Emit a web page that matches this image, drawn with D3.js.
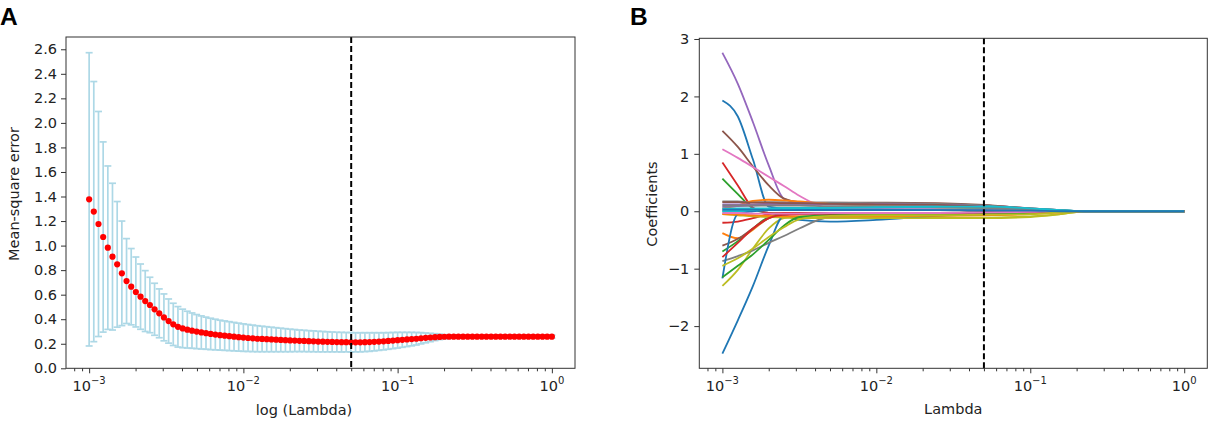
<!DOCTYPE html>
<html><head><meta charset="utf-8">
<script src="https://cdn.jsdelivr.net/npm/d3@7"></script>
<style>
html,body{margin:0;padding:0;background:#fff;}
svg{display:block;}
text{font-family:"DejaVu Sans",sans-serif;fill:#222;}
</style></head>
<body>
<svg id="chart" width="1215" height="427"></svg>
<script>
// ---------- Panel A data ----------
const lambdaA = [0.001000,0.001072,0.001150,0.001233,0.001322,0.001417,0.001520,0.001630,0.001748,0.001874,
0.002009,0.002154,0.002310,0.002477,0.002656,0.002848,0.003054,0.003275,0.003511,0.003765,
0.004037,0.004329,0.004642,0.004977,0.005337,0.005722,0.006136,0.006579,0.007055,0.007565,
0.008111,0.008697,0.009326,0.01000,0.01072,0.01150,0.01233,0.01322,0.01417,0.01520,
0.01630,0.01748,0.01874,0.02009,0.02154,0.02310,0.02477,0.02656,0.02848,0.03054,
0.03275,0.03511,0.03765,0.04037,0.04329,0.04642,0.04977,0.05337,0.05722,0.06136,
0.06579,0.07055,0.07565,0.08111,0.08697,0.09326,0.1000,0.1072,0.1150,0.1233,
0.1322,0.1417,0.1520,0.1630,0.1748,0.1874,0.2009,0.2154,0.2310,0.2477,
0.2656,0.2848,0.3054,0.3275,0.3511,0.3765,0.4037,0.4329,0.4642,0.4977,
0.5337,0.5722,0.6136,0.6579,0.7055,0.7565,0.8111,0.8697,0.9326,1.0];
const mseMean = [1.377,1.277,1.176,1.070,0.983,0.910,0.847,0.774,0.711,0.665,
0.622,0.584,0.548,0.516,0.481,0.448,0.415,0.385,0.358,0.338,
0.325,0.315,0.307,0.299,0.292,0.286,0.280,0.275,0.270,0.266,
0.262,0.258,0.254,0.250,0.247,0.244,0.241,0.239,0.237,0.235,
0.233,0.231,0.229,0.227,0.226,0.224,0.223,0.221,0.220,0.218,
0.217,0.216,0.215,0.214,0.213,0.213,0.212,0.212,0.212,0.213,
0.214,0.216,0.218,0.220,0.223,0.226,0.229,0.232,0.235,0.238,
0.241,0.245,0.248,0.251,0.254,0.256,0.257,0.258,0.258,0.258,
0.258,0.258,0.258,0.258,0.258,0.258,0.258,0.258,0.258,0.258,
0.258,0.258,0.258,0.258,0.258,0.258,0.258,0.258,0.258,0.258];
const mseStd = [1.195,1.060,0.917,0.775,0.666,0.598,0.512,0.426,0.346,0.311,
0.285,0.266,0.248,0.226,0.212,0.199,0.191,0.180,0.172,0.165,
0.157,0.150,0.144,0.139,0.135,0.131,0.128,0.125,0.122,0.120,
0.118,0.116,0.114,0.112,0.110,0.108,0.106,0.104,0.102,0.100,
0.098,0.096,0.094,0.092,0.090,0.088,0.087,0.086,0.085,0.084,
0.083,0.082,0.081,0.080,0.080,0.079,0.079,0.078,0.078,0.077,
0.076,0.074,0.072,0.070,0.068,0.066,0.064,0.061,0.058,0.055,
0.051,0.046,0.040,0.034,0.028,0.022,0.017,0.014,0.012,0.012,
0.012,0.012,0.012,0.012,0.012,0.012,0.012,0.012,0.012,0.012,
0.012,0.012,0.012,0.012,0.012,0.012,0.012,0.012,0.012,0.012];
const yTicksA = [0,0.2,0.4,0.6,0.8,1.0,1.2,1.4,1.6,1.8,2.0,2.2,2.4,2.6];

// ---------- Panel B data ----------
const lambdaB = [0.001,0.00126,0.00158,0.002,0.00251,0.00316,0.00501,0.01,0.0251,0.0501,0.1,0.158,0.224,1.0];
const coefPaths = [
 [1.93,1.65,0.90,0.08,0.05,0.05,0.04,0.03,0.03,0.02,0.01,0,0,0],
 [-0.38,-0.47,-0.32,-0.12,-0.06,-0.05,-0.06,-0.07,-0.06,-0.05,-0.03,-0.01,0,0],
 [0.57,0.30,0.05,-0.03,-0.04,-0.04,-0.04,-0.04,-0.04,-0.03,-0.02,-0.01,0,0],
 [0.85,0.45,0.06,-0.03,-0.05,-0.05,-0.05,-0.04,-0.03,-0.02,-0.01,0,0,0],
 [2.76,2.22,1.55,0.80,0.22,0.15,0.13,0.13,0.12,0.10,0.05,0.02,0,0],
 [1.40,1.12,0.78,0.45,0.22,0.16,0.15,0.15,0.14,0.11,0.05,0.02,0,0],
 [1.08,0.93,0.77,0.60,0.44,0.27,0.06,0.05,0.05,0.04,0.02,0.01,0,0],
 [0.17,0.17,0.16,0.16,0.16,0.15,0.15,0.14,0.13,0.10,0.05,0.02,0,0],
 [-1.30,-1.02,-0.65,-0.30,-0.12,-0.09,-0.10,-0.10,-0.11,-0.11,-0.09,-0.05,0,0],
 [0.00,0.00,0.01,0.02,0.03,0.04,0.06,0.08,0.10,0.09,0.04,0.02,0,0],
 [-2.48,-1.90,-1.30,-0.60,-0.08,-0.15,-0.18,-0.15,-0.08,-0.05,-0.03,-0.01,0,0],
 [0.05,0.10,0.18,0.20,0.19,0.17,0.13,0.10,0.07,0.05,0.02,0.01,0,0],
 [-0.70,-0.52,-0.30,-0.10,-0.05,-0.05,-0.05,-0.05,-0.05,-0.04,-0.03,-0.01,0,0],
 [-0.20,-0.18,-0.12,-0.05,-0.03,-0.03,-0.03,-0.03,-0.03,-0.02,-0.01,0,0,0],
 [0.12,0.12,0.12,0.13,0.14,0.14,0.13,0.12,0.11,0.08,0.04,0.01,0,0],
 [-0.60,-0.48,-0.30,-0.12,-0.05,-0.04,-0.04,-0.04,-0.04,-0.03,-0.02,-0.01,0,0],
 [0.02,0.02,0.02,0.03,0.03,0.03,0.03,0.03,0.02,0.02,0.01,0,0,0],
 [-0.87,-0.78,-0.68,-0.55,-0.43,-0.30,-0.10,-0.08,-0.07,-0.05,-0.03,-0.01,0,0],
 [-0.05,-0.07,-0.09,-0.10,-0.11,-0.12,-0.12,-0.12,-0.12,-0.12,-0.10,-0.05,0,0],
 [0.05,0.05,0.05,0.05,0.06,0.06,0.07,0.07,0.07,0.06,0.04,0.02,0,0],
 [-1.17,-0.05,0.00,0.02,0.03,0.03,0.03,0.03,0.02,0.02,0.01,0,0,0],
 [-0.05,-0.06,-0.07,-0.08,-0.09,-0.09,-0.09,-0.09,-0.08,-0.07,-0.05,-0.02,0,0],
 [-1.15,-0.95,-0.75,-0.50,-0.25,-0.10,-0.07,-0.06,-0.06,-0.05,-0.03,-0.01,0,0],
 [-0.80,-0.55,-0.30,-0.12,-0.06,-0.05,-0.04,-0.03,-0.03,-0.02,-0.01,0,0,0],
 [0.08,0.09,0.10,0.11,0.12,0.12,0.12,0.12,0.11,0.08,0.03,0.01,0,0],
 [0.16,0.16,0.15,0.15,0.14,0.14,0.13,0.12,0.11,0.08,0.04,0.01,0,0],
 [-0.03,-0.03,-0.04,-0.04,-0.04,-0.04,-0.03,-0.03,-0.03,-0.02,-0.01,0,0,0],
 [0.10,0.10,0.10,0.10,0.10,0.10,0.09,0.09,0.08,0.06,0.03,0.01,0,0],
 [-0.95,-0.82,-0.65,-0.45,-0.28,-0.14,-0.08,-0.07,-0.07,-0.06,-0.05,-0.02,0,0],
 [0.00,0.01,0.02,0.03,0.04,0.05,0.06,0.07,0.08,0.08,0.05,0.02,0,0],
 [0.03,0.03,0.03,0.02,0.02,0.02,0.02,0.02,0.02,0.01,0.01,0,0,0]
];
const yTicksB = [-2,-1,0,1,2,3];

// ---------- shared ----------
const xTickValues = [0.001,0.01,0.1,1];
const xTickExps = ["\u22123","\u22122","\u22121","0"];
const bestLambda = 0.05;
const xDomain = [Math.pow(10,-3.15), Math.pow(10,0.15)];

const svg = d3.select("#chart");
const FS = "14.5px";

function drawXAxis(g, x, bottom) {
  g.append("g").attr("transform",`translate(0,${bottom})`)
    .call(d3.axisBottom(x).tickValues(x.ticks().filter(v => !xTickValues.some(t => Math.abs(v/t-1)<1e-6))).tickSize(3).tickFormat(""))
    .call(s => s.select(".domain").remove())
    .call(s => s.selectAll("line").attr("stroke","#333"));
  g.append("g").attr("transform",`translate(0,${bottom})`)
    .call(d3.axisBottom(x).tickValues(xTickValues).tickSize(5).tickFormat(""))
    .call(s => s.select(".domain").remove())
    .call(s => s.selectAll("line").attr("stroke","#333"));
  xTickValues.forEach((v,i) => {
    const t = g.append("text").attr("x", x(v)).attr("y", bottom+22.5)
      .attr("text-anchor","middle").style("font-size",FS);
    t.append("tspan").text("10");
    t.append("tspan").attr("dy",-7).style("font-size","10px").text(xTickExps[i]);
  });
}

function frame(g, x0, y0, x1, y1) {
  g.append("rect").attr("x",x0).attr("y",y0).attr("width",x1-x0).attr("height",y1-y0)
    .attr("fill","none").attr("stroke","#333").attr("stroke-width",1);
}

// ---------- Panel A ----------
{
  const L=66, R=575, T=37, B=368.3;
  const g = svg.append("g");
  const x = d3.scaleLog().domain(xDomain).range([L,R]);
  const y = d3.scaleLinear().domain([0,2.70]).range([B,T]);

  const eb = g.append("g").attr("stroke","#add8e6").attr("stroke-width",1.7);
  lambdaA.forEach((lam,i) => {
    const cx = x(lam), lo = y(mseMean[i]-mseStd[i]), hi = y(mseMean[i]+mseStd[i]);
    eb.append("line").attr("x1",cx).attr("x2",cx).attr("y1",lo).attr("y2",hi);
    eb.append("line").attr("x1",cx-3.5).attr("x2",cx+3.5).attr("y1",lo).attr("y2",lo);
    eb.append("line").attr("x1",cx-3.5).attr("x2",cx+3.5).attr("y1",hi).attr("y2",hi);
  });
  g.append("g").selectAll("circle").data(lambdaA).join("circle")
    .attr("cx",d=>x(d)).attr("cy",(d,i)=>y(mseMean[i])).attr("r",3.1).attr("fill","#ff0000");

  g.append("line").attr("x1",x(bestLambda)).attr("x2",x(bestLambda)).attr("y1",T).attr("y2",B)
    .attr("stroke","#000").attr("stroke-width",2).attr("stroke-dasharray","6,3");

  frame(g,L,T,R,B);
  g.append("g").attr("transform",`translate(${L},0)`)
    .call(d3.axisLeft(y).tickValues(yTicksA).tickSize(5).tickPadding(4).tickFormat(d3.format(".1f")))
    .call(s => s.select(".domain").remove())
    .call(s => s.selectAll("line").attr("stroke","#333"))
    .call(s => s.selectAll("text").style("font-size",FS).style("font-family","DejaVu Sans").attr("fill","#222"));
  drawXAxis(g, x, B);

  g.append("text").attr("x",304).attr("y",415).attr("text-anchor","middle").style("font-size",FS).text("log (Lambda)");
  g.append("text").attr("transform","translate(19,194) rotate(-90)").attr("text-anchor","middle").style("font-size",FS).text("Mean-square error");
  g.append("text").attr("x",0).attr("y",24.5).style("font-family","Liberation Sans, Arial, sans-serif")
    .style("font-weight","bold").style("font-size","24.5px").style("fill","#000").text("A");
}

// ---------- Panel B ----------
{
  const L=699.3, R=1207.3, T=38.3, B=368.3;
  const g = svg.append("g");
  const x = d3.scaleLog().domain(xDomain).range([L,R]);
  const y = d3.scaleLinear().domain([-2.735,3.012]).range([B,T]);
  const color = d3.scaleOrdinal(d3.schemeCategory10);
  const line = d3.line().x((d,i)=>x(lambdaB[i])).y(d=>y(d)).curve(d3.curveMonotoneX);

  g.append("g").selectAll("path").data(coefPaths).join("path")
    .attr("d",line).attr("fill","none").attr("stroke",(d,i)=>color(i%10)).attr("stroke-width",1.8);

  g.append("line").attr("x1",x(bestLambda)).attr("x2",x(bestLambda)).attr("y1",T).attr("y2",B)
    .attr("stroke","#000").attr("stroke-width",2).attr("stroke-dasharray","6,3");

  frame(g,L,T,R,B);
  g.append("g").attr("transform",`translate(${L},0)`)
    .call(d3.axisLeft(y).tickValues(yTicksB).tickSize(5).tickPadding(5).tickFormat(d => d<0 ? "\u2212"+Math.abs(d) : String(d)))
    .call(s => s.select(".domain").remove())
    .call(s => s.selectAll("line").attr("stroke","#333"))
    .call(s => s.selectAll("text").style("font-size",FS).style("font-family","DejaVu Sans").attr("fill","#222"));
  drawXAxis(g, x, B);

  g.append("text").attr("x",(L+R)/2).attr("y",413.5).attr("text-anchor","middle").style("font-size",FS).text("Lambda");
  g.append("text").attr("transform","translate(657,204) rotate(-90)").attr("text-anchor","middle").style("font-size",FS).text("Coefficients");
  g.append("text").attr("x",630).attr("y",25).style("font-family","Liberation Sans, Arial, sans-serif")
    .style("font-weight","bold").style("font-size","24.5px").style("fill","#000").text("B");
}
</script>
</body></html>
